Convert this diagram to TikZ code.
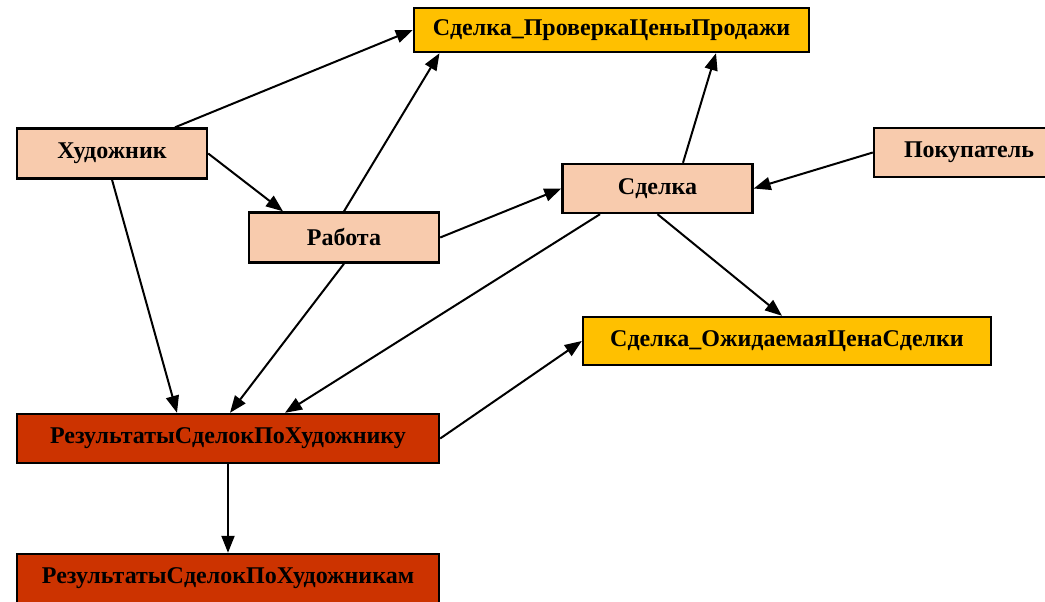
\documentclass[tikz,border=0pt]{standalone}
\usepackage{fontspec}
\setmainfont{Liberation Serif}
\usetikzlibrary{arrows.meta}
\definecolor{peach}{HTML}{F8CBAD}
\definecolor{gold}{HTML}{FFC000}
\definecolor{rust}{HTML}{CC3300}
\begin{document}
\begin{tikzpicture}[x=1pt,y=-1pt,
  box/.style={draw=black,line width=2.4pt,minimum width=#1,inner sep=0pt,font=\bfseries\fontsize{24}{27}\selectfont},
  ent/.style={box=190pt,fill=peach,minimum height=50pt},
  chk/.style={box=#1,fill=gold,minimum height=45pt},
  res/.style={box=422pt,fill=rust,minimum height=49pt},
  conn/.style={line width=2pt,-{Triangle[length=17pt,width=13pt]}}]
\useasboundingbox (0,0) rectangle (1045,602);
\clip (0,0) rectangle (1045,602);
\node[ent] (art) at (112,153.5) {Художник};
\node[ent] (work) at (344,237.5) {Работа};
\node[ent,minimum height=49pt] (deal) at (657.5,188.5) {Сделка};
\node[ent,minimum height=49pt] (buyer) at (969,152.5) {Покупатель};
\node[chk=395pt,minimum height=44pt] (check) at (611.5,30) {Сделка\_ПроверкаЦеныПродажи};
\node[chk=408pt,minimum height=48pt] (expect) at (787,341) {Сделка\_ОжидаемаяЦенаСделки};
\node[res] (resA) at (228,438.5) {РезультатыСделокПоХудожнику};
\node[res] (resB) at (228,578.5) {РезультатыСделокПоХудожникам};
\draw[conn] ([xshift=63pt]art.north) -- (check.west);
\draw[conn] (art.east) -- ([xshift=-61pt]work.north);
\draw[conn] (art.south) -- ([xshift=-51pt]resA.north);
\draw[conn] (work.north) -- ([xshift=-172pt]check.south);
\draw[conn] (work.east) -- (deal.west);
\draw[conn] (work.south) -- ([xshift=2pt]resA.north);
\draw[conn] ([xshift=25.5pt]deal.north) -- ([xshift=104.5pt]check.south);
\draw[conn] (buyer.west) -- (deal.east);
\draw[conn] ([xshift=-57.5pt]deal.south) -- ([xshift=57pt]resA.north);
\draw[conn] (deal.south) -- ([xshift=-5pt]expect.north);
\draw[conn] (resA.east) -- (expect.west);
\draw[conn] (resA.south) -- (resB.north);
\end{tikzpicture}
\end{document}
